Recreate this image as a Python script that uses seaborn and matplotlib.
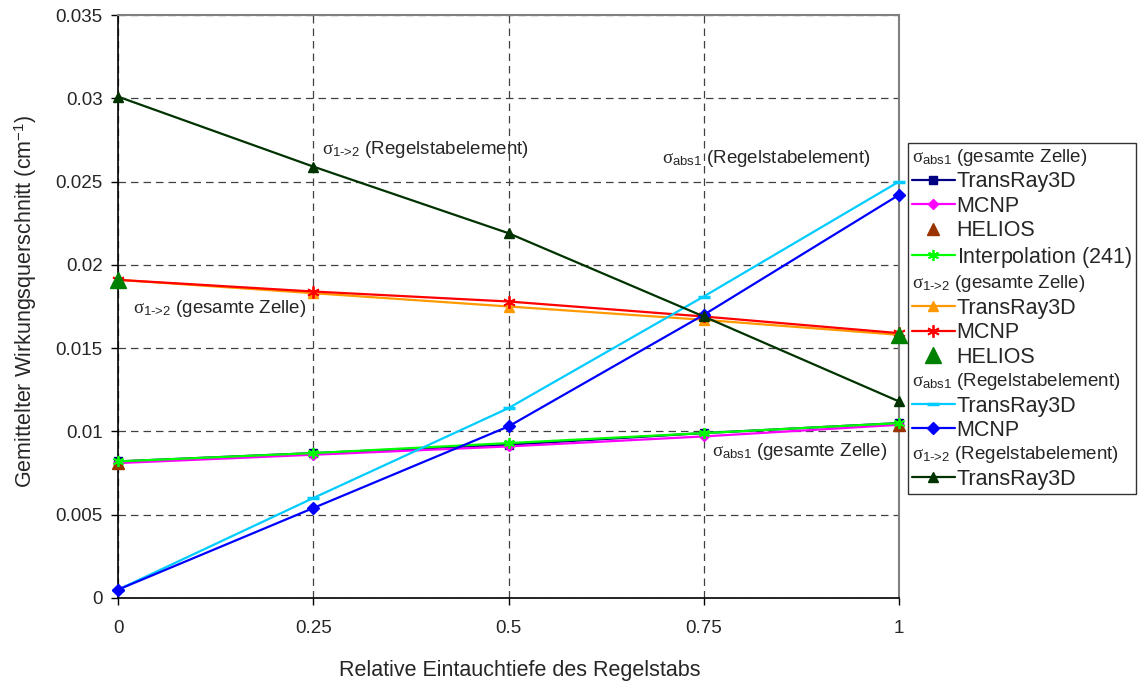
import matplotlib
matplotlib.use('Agg')
import matplotlib.pyplot as plt
import pandas as pd
import seaborn as sns
from matplotlib.lines import Line2D
from matplotlib.ticker import MultipleLocator, FuncFormatter

X = [0, 0.25, 0.5, 0.75, 1]
X_ENDS = [0, 1]

# sigma_abs1, gesamte Zelle
abs_cell_transray = [0.0082, 0.0087, 0.0092, 0.0099, 0.0105]
abs_cell_mcnp = [0.0081, 0.0086, 0.0091, 0.0097, 0.0104]
abs_cell_helios = [0.0081, 0.0104]
abs_cell_interp = [0.0082, 0.0087, 0.0093, 0.0099, 0.0105]

# sigma_1->2, gesamte Zelle
s12_cell_transray = [0.0191, 0.0183, 0.0175, 0.0167, 0.0158]
s12_cell_mcnp = [0.0191, 0.0184, 0.0178, 0.0169, 0.0159]
s12_cell_helios = [0.0191, 0.0158]

# sigma_abs1, Regelstabelement
abs_rod_transray = [0.0005, 0.0060, 0.0114, 0.0181, 0.0250]
abs_rod_mcnp = [0.0005, 0.0054, 0.0103, 0.0170, 0.0242]

# sigma_1->2, Regelstabelement
s12_rod_transray = [0.0301, 0.0259, 0.0219, 0.0169, 0.0118]

FONT = 'Liberation Sans'

sns.set_theme(style='white')
plt.rcParams['font.family'] = [FONT, 'DejaVu Sans']
plt.rcParams['mathtext.fontset'] = 'custom'
plt.rcParams['mathtext.rm'] = FONT
plt.rcParams['mathtext.sf'] = FONT
plt.rcParams['mathtext.it'] = 'Liberation Serif'
plt.rcParams['mathtext.bf'] = FONT

H_ABS_CELL = r'$\sigma_{\mathrm{abs1}}$ (gesamte Zelle)'
H_S12_CELL = r'$\sigma_{\mathrm{1\text{->}2}}$ (gesamte Zelle)'
H_ABS_ROD = r'$\sigma_{\mathrm{abs1}}$ (Regelstabelement)'
H_S12_ROD = r'$\sigma_{\mathrm{1\text{->}2}}$ (Regelstabelement)'

ASTER = (6, 2, 0)

# name, x, y, color, marker, markersize, line?
series = [
    ('TransRay3D', X, abs_cell_transray, '#000080', 's', 6, True),
    ('MCNP', X, abs_cell_mcnp, '#FF00FF', 'D', 5, True),
    ('HELIOS', X_ENDS, abs_cell_helios, '#993300', '^', 8, False),
    ('Interpolation $\\mathit{(241)}$', X, abs_cell_interp, '#00FF00', ASTER, 8, True),
    ('TransRay3D', X, s12_cell_transray, '#FF9900', '^', 7, True),
    ('MCNP', X, s12_cell_mcnp, '#FF0000', ASTER, 9, True),
    ('HELIOS', X_ENDS, s12_cell_helios, '#008000', '^', 11, False),
    ('TransRay3D', X, abs_rod_transray, '#00CCFF', '_', 9, True),
    ('MCNP', X, abs_rod_mcnp, '#0000FF', 'D', 6, True),
    ('TransRay3D', X, s12_rod_transray, '#003300', '^', 7, True),
]
headers_at = {0: H_ABS_CELL, 4: H_S12_CELL, 7: H_ABS_ROD, 9: H_S12_ROD}

fig = plt.figure(figsize=(11.38, 6.84), dpi=100)
ax = fig.add_axes([118 / 1138, 1 - 598 / 684, (899 - 118) / 1138, (598 - 15) / 684])

handles, labels = [], []
for i, (name, xs, ys, color, marker, ms, has_line) in enumerate(series):
    df = pd.DataFrame({'x': xs, 'y': ys})
    mew = 2.5 if marker == '_' else (1.3 if marker == ASTER else 1)
    sns.lineplot(data=df, x='x', y='y', ax=ax, color=color, marker=marker,
                 markersize=ms, markeredgecolor=color, markeredgewidth=mew,
                 linewidth=1.6 if has_line else 0, linestyle='-' if has_line else 'none',
                 legend=False, zorder=3 + i * 0.1, clip_on=False)
    if i in headers_at:
        handles.append(Line2D([], [], linestyle='none'))
        labels.append(headers_at[i])
    handles.append(Line2D([], [], color=color, marker=marker, markersize=ms,
                          markeredgecolor=color, markeredgewidth=mew,
                          linewidth=1.6 if has_line else 0,
                          linestyle='-' if has_line else 'none'))
    labels.append(name)

ax.set_xlim(0, 1)
ax.set_ylim(0, 0.035)
ax.xaxis.set_major_locator(MultipleLocator(0.25))
ax.yaxis.set_major_locator(MultipleLocator(0.005))
ax.xaxis.set_major_formatter(FuncFormatter(lambda v, p: f'{v:g}'))
ax.yaxis.set_major_formatter(FuncFormatter(lambda v, p: f'{round(v, 4):g}'))
ax.tick_params(axis='both', which='major', direction='out', length=5, width=1,
               color='black', labelsize=13.5, bottom=True, left=True, pad=6)
ax.tick_params(axis='x', pad=11)

ax.grid(True, color='#404040', linestyle=(0, (6, 4)), linewidth=0.9)
ax.set_axisbelow(True)
for side in ['left', 'bottom']:
    ax.spines[side].set_color('black')
    ax.spines[side].set_linewidth(1.2)
for side in ['top', 'right']:
    ax.spines[side].set_color('#808080')
    ax.spines[side].set_linewidth(1.5)

ax.set_xlabel('Relative Eintauchtiefe des Regelstabs', fontsize=15.5)
ax.set_ylabel('Gemittelter Wirkungsquerschnitt (cm$^{-1}$)', fontsize=15.5)
ax.xaxis.set_label_coords(0.514, -0.106)
ax.yaxis.set_label_coords(-0.101, 0.509)

ax.text(0.261, 0.0269, H_S12_ROD, fontsize=13.5, va='center')
ax.text(0.6965, 0.0264, H_ABS_ROD, fontsize=13.5, va='center')
ax.text(0.019, 0.01735, H_S12_CELL, fontsize=13.5, va='center')
ax.text(0.7606, 0.0088, H_ABS_CELL, fontsize=13.5, va='center')

leg = fig.legend(handles, labels, loc='upper left', bbox_to_anchor=(908 / 1138, 1 - 143 / 684),
                 fontsize=15.5, frameon=True, fancybox=False, edgecolor='black',
                 handlelength=2.0, handletextpad=0.08, labelspacing=0.16,
                 borderpad=0.18, borderaxespad=0)
leg.get_frame().set_linewidth(1)
header_set = set(headers_at.values())
for hp in leg._legend_handle_box.get_children()[0].get_children():
    da, ta = hp.get_children()
    if ta.get_text() in header_set:
        da.width = 0
        hp.sep = 0
        ta._text.set_fontsize(13.5)

fig.savefig('out.png', dpi=100)
